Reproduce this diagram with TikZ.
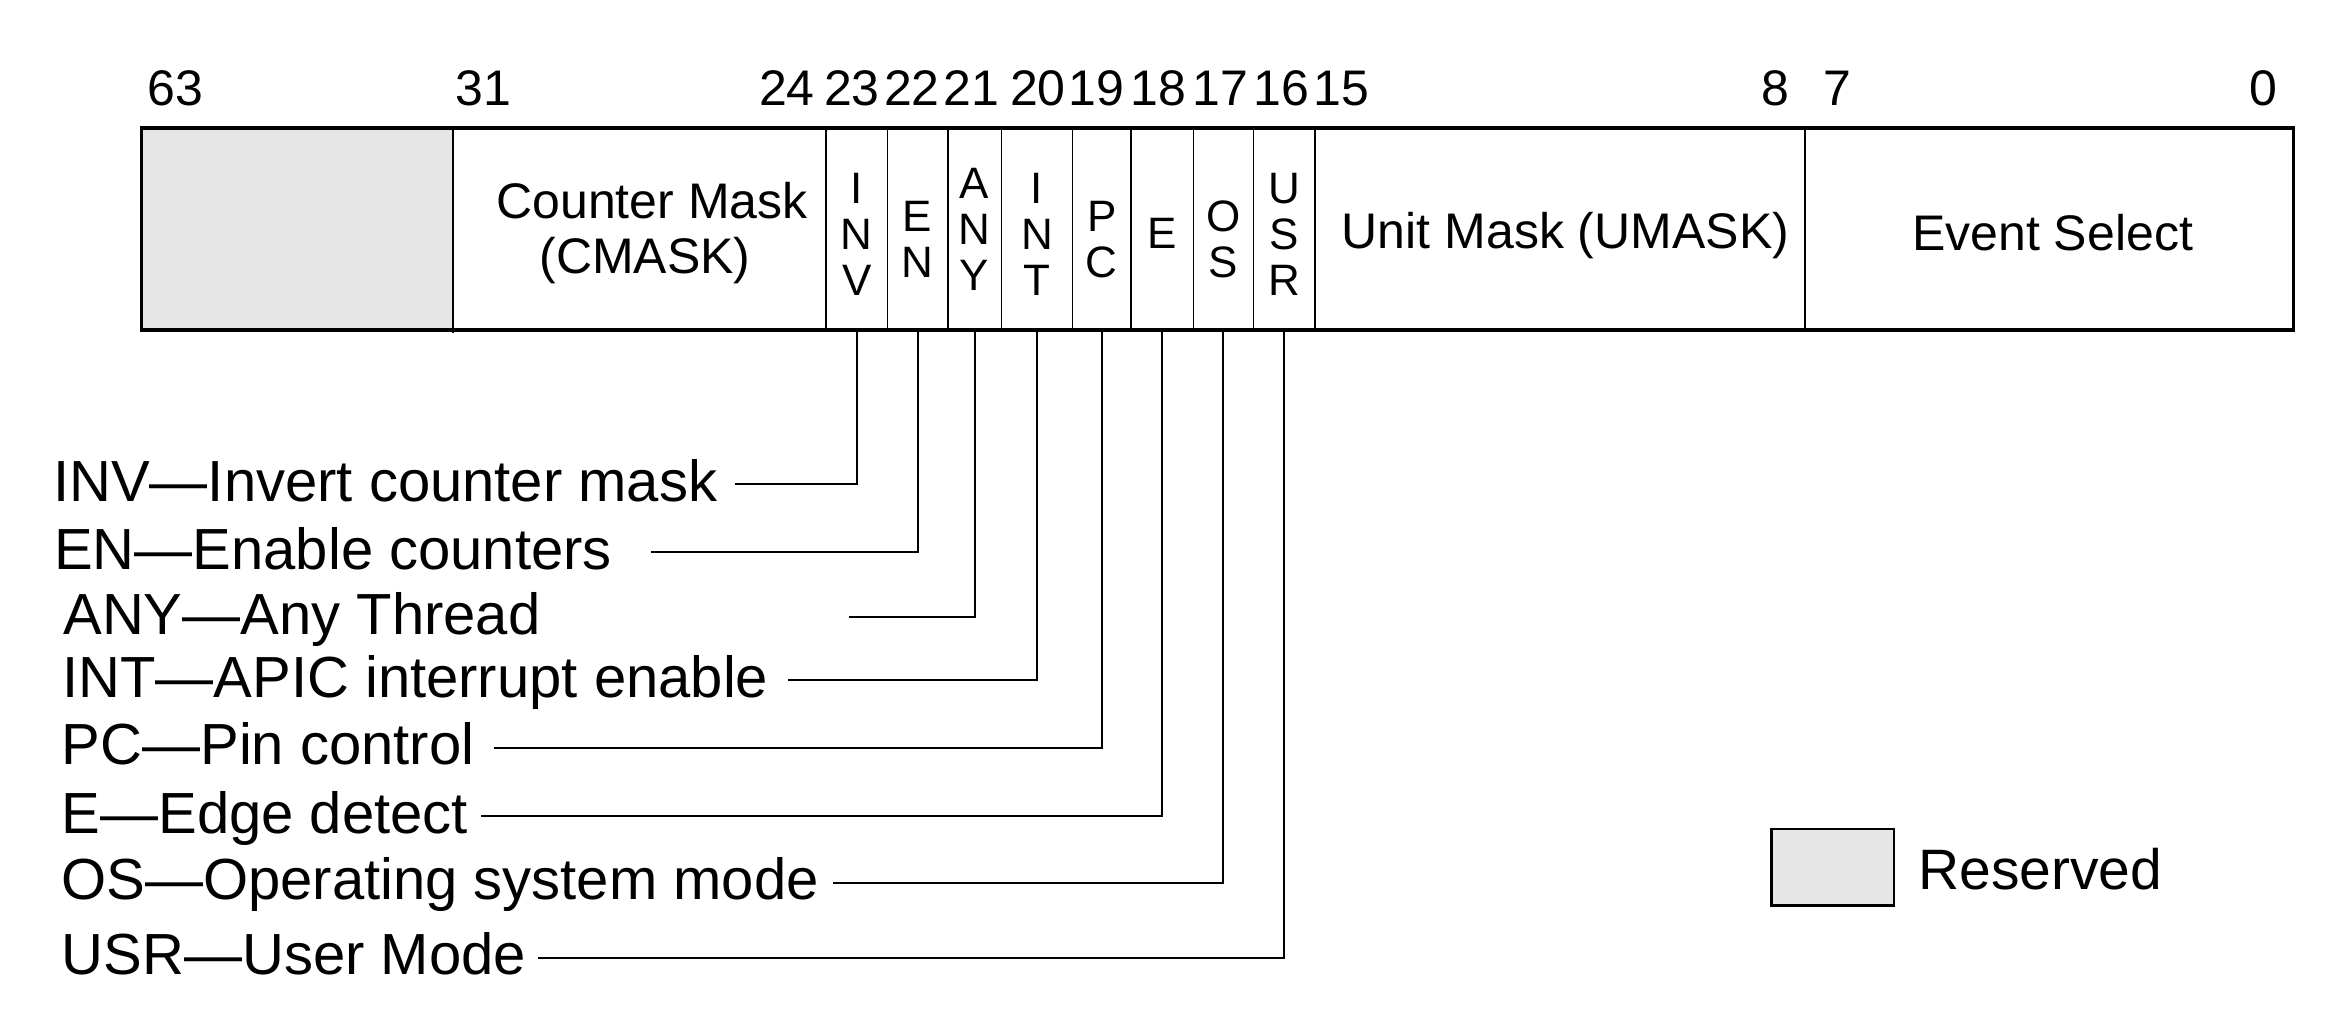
\documentclass[tikz,border=0pt]{standalone}
\usepackage{fontspec}
\setmainfont{Liberation Sans}
\definecolor{rsvgray}{HTML}{E6E6E6}
\begin{document}
\begin{tikzpicture}[x=0.25pt,y=-0.25pt,
  cell/.style={draw=black, line width=0.4pt, inner sep=0pt, outer sep=0pt, minimum height=50.5pt},
  num/.style={inner sep=0pt, font=\fontsize{12.5}{15}\selectfont},
  boxtxt/.style={inner sep=0pt, anchor=base, font=\fontsize{12.5}{15}\selectfont},
  bits/.style={inner sep=0pt, align=center, anchor=north, font=\fontsize{11}{11.5}\selectfont},
  lbl/.style={inner sep=0pt, anchor=base west, font=\fontsize{14.5}{17}\selectfont},
  conn/.style={line width=0.5pt},
  frame/.style={line width=0.8pt}
]
\useasboundingbox (0,0) rectangle (2338,1022);

% register cells
\node[cell, fill=rsvgray, minimum width=77.725pt] (rsv)   at (297.15,229) {};
\node[cell, minimum width=93.35pt]  (cmask) at (639.3,229) {};
\node[cell, minimum width=15.35pt]  (inv)   at (856.7,229) {};
\node[cell, minimum width=15.1pt]   (en)    at (917.6,229) {};
\node[cell, minimum width=13.425pt] (any)   at (974.65,229) {};
\node[cell, minimum width=17.7pt]   (int)   at (1036.9,229) {};
\node[cell, minimum width=14.725pt] (pc)    at (1101.75,229) {};
\node[cell, minimum width=15.6pt]   (e)     at (1162.4,229) {};
\node[cell, minimum width=14.925pt] (os)    at (1223.45,229) {};
\node[cell, minimum width=15.475pt] (usr)   at (1284.25,229) {};
\node[cell, minimum width=122.45pt] (umask) at (1560.1,229) {};
\node[cell, minimum width=122.125pt](evsel) at (2049.25,229) {};
\draw[line width=0.55pt] (rsv.north east) -- ([yshift=-0.8pt]rsv.south east);
\draw[frame] (rsv.north west) rectangle (evsel.south east);

% bit numbers
\node[num, anchor=base west] (n63) at (147,105) {63};
\node[num, anchor=base west] (n31) at (455,105) {31};
\node[num, anchor=base east] (n24) at (815.5,105) {24};
\node[num, anchor=base] (n23) at (852,105) {23};
\node[num, anchor=base] (n22) at (912,105) {22};
\node[num, anchor=base] (n21) at (971.5,105) {21};
\node[num, anchor=base] (n20) at (1038,105) {20};
\node[num, anchor=base] (n19) at (1096.5,105) {19};
\node[num, anchor=base] (n18) at (1158.5,105) {18};
\node[num, anchor=base] (n17) at (1220.5,105) {17};
\node[num, anchor=base] (n16) at (1281.5,105) {16};
\node[num, anchor=base west] (n15) at (1312.5,105) {15};
\node[num, anchor=base east] (n8) at (1790,105) {8};
\node[num, anchor=base west] (n7) at (1822.5,105) {7};
\node[num, anchor=base east] (n0) at (2278,105) {0};

% field texts
\node[boxtxt] (cm1) at (652,218) {Counter Mask};
\node[boxtxt] (cm2) at (645,273) {(CMASK)};
\node[boxtxt] (um) at (1565.5,248) {Unit Mask (UMASK)};
\node[boxtxt] (es) at (2052.6,250) {Event Select};

\coordinate (t3) at (0,172);
\coordinate (t2) at (0,200);
\coordinate (t1) at (0,217);
\coordinate (ta) at (0,167);
\node[bits] (binv) at (inv.north |- t3) {I\\N\\V};
\node[bits] (ben)  at (en.north |- t2) {E\\N};
\node[bits] (bany) at (any.north |- ta) {A\\N\\Y};
\node[bits] (bint) at (int.north |- t3) {I\\N\\T};
\node[bits] (bpc)  at (pc.north |- t2) {P\\C};
\node[bits] (be)   at (e.north |- t1) {E};
\node[bits] (bos)  at (os.north |- t2) {O\\S};
\node[bits] (busr) at (usr.north |- t3) {U\\S\\R};

% descriptions
\node[lbl] (linv) at (52.5,501)  {INV—Invert counter mask};
\node[lbl] (len)  at (53.4,569)  {EN—Enable counters};
\node[lbl] (lany) at (62.6,634)  {ANY—Any Thread};
\node[lbl] (lint) at (61.5,697)  {INT—APIC interrupt enable};
\node[lbl] (lpc)  at (61,764.6)  {PC—Pin control};
\node[lbl] (le)   at (61,833)    {E—Edge detect};
\node[lbl] (los)  at (60.5,899.7){OS—Operating system mode};
\node[lbl] (lusr) at (61,974.5)  {USR—User Mode};

\coordinate (sinv) at (735,484);
\coordinate (sen)  at (651,552.4);
\coordinate (sany) at (848.6,617);
\coordinate (sint) at (788,680);
\coordinate (spc)  at (493.7,747.6);
\coordinate (se)   at (481,816);
\coordinate (sos)  at (833,882.7);
\coordinate (susr) at (538,957.5);
\draw[conn] (sinv) -| (inv.south);
\draw[conn] (sen)  -| (en.south);
\draw[conn] (sany) -| (any.south);
\draw[conn] (sint) -| (int.south);
\draw[conn] (spc)  -| (pc.south);
\draw[conn] (se)   -| (e.south);
\draw[conn] (sos)  -| (os.south);
\draw[conn] (susr) -| (usr.south);

% legend
\node[draw=black, fill=rsvgray, line width=0.6pt, inner sep=0pt, minimum width=30.575pt, minimum height=19.125pt] (leg) at (1832.6,867.2) {};
\node[inner sep=0pt, anchor=base west, font=\fontsize{14.25}{17}\selectfont] (legt) at (1917.5,889) {Reserved};
\end{tikzpicture}
\end{document}
